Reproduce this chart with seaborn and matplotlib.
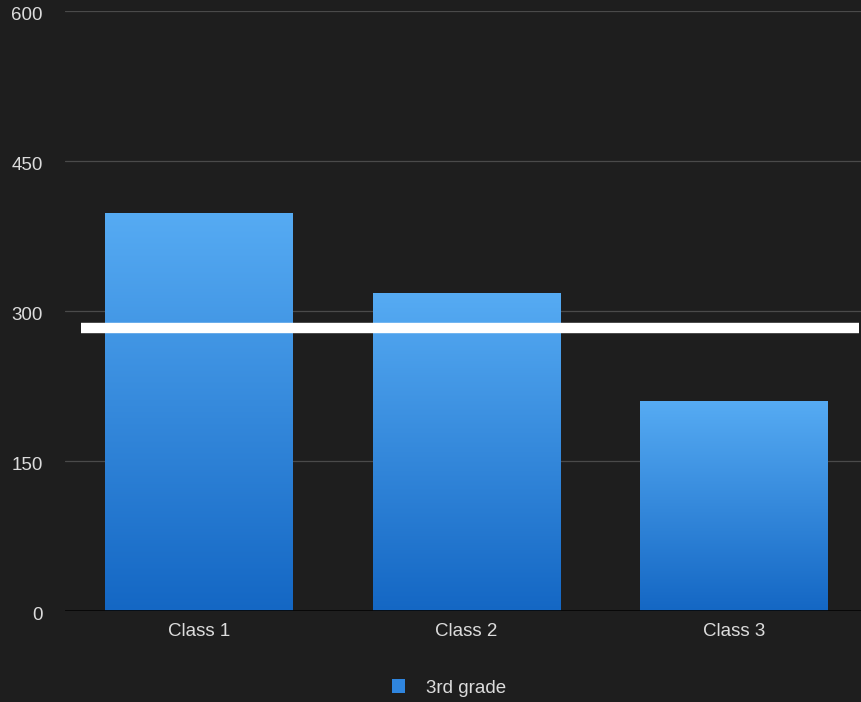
import numpy as np
import pandas as pd
import matplotlib
matplotlib.use("Agg")
import matplotlib.pyplot as plt
import matplotlib.transforms as mtransforms
import seaborn as sns
from matplotlib.patches import Patch

categories = ["Class 1", "Class 2", "Class 3"]
values = [398, 318, 210]
series_name = "3rd grade"
threshold = 283
yticks = [0, 150, 300, 450, 600]

sns.set_theme(style="dark")
plt.rcParams['font.family'] = ['Liberation Sans', 'DejaVu Sans']

bg = "#1e1e1e"
fig = plt.figure(figsize=(8.61, 7.02), dpi=100, facecolor=bg)
ax = fig.add_axes([65/861, 1-611/702, 1-65/861, 600/702])
ax.set_facecolor(bg)

df = pd.DataFrame({"cls": categories, "val": values, "grade": series_name})
sns.barplot(data=df, x="cls", y="val", hue="grade", palette=["#3a8fe0"],
            width=0.70, ax=ax, legend=False, zorder=2, linewidth=0)

# gradient fill
grad = np.linspace(0, 1, 256).reshape(-1, 1)
cmap = matplotlib.colors.LinearSegmentedColormap.from_list("g", ["#1467c4", "#56abf3"])
for p in ax.patches:
    x0, y0 = p.get_x(), p.get_y()
    w, h = p.get_width(), p.get_height()
    p.set_edgecolor("none")
    im = ax.imshow(grad, extent=[x0, x0 + w, y0, y0 + h], origin="lower",
                   cmap=cmap, aspect="auto", zorder=2.1)
    im.set_clip_path(p)

ax.set_xlim(-0.5, 2.5 - (867.5 - 861) / 267.5)
ax.set_ylim(0, 600)
ax.set_yticks(yticks)
ax.set_yticklabels([str(v) for v in yticks])
ax.grid(axis="y", color="#4a4a4a", linewidth=0.9, zorder=0)
ax.grid(axis="x", visible=False)
for s in ax.spines.values():
    s.set_visible(False)
ax.axhline(0, color="#050505", linewidth=2, zorder=3)
ax.axhline(threshold, xmin=16/796, xmax=794/796, color="white", linewidth=7.5,
           solid_capstyle="butt", zorder=4)

ax.tick_params(axis="y", length=0, pad=16, labelcolor="#dcdcdc", labelsize=13.5)
ax.tick_params(axis="x", length=0, pad=9, labelcolor="#dcdcdc", labelsize=13.5)
offset = mtransforms.ScaledTranslation(0, -3/100, fig.dpi_scale_trans)
for lbl in ax.get_yticklabels():
    lbl.set_transform(lbl.get_transform() + offset)
ax.set_xlabel("")
ax.set_ylabel("")

leg = fig.legend(handles=[Patch(facecolor="#2f85de", edgecolor="none", label=series_name)],
                 loc="center", bbox_to_anchor=(449/861, 1-688/702), frameon=False,
                 fontsize=13.5, handlelength=0.7, handleheight=0.7, handletextpad=1.1)
for t in leg.get_texts():
    t.set_color("#dcdcdc")

fig.savefig("out.png", dpi=100, facecolor=bg)
